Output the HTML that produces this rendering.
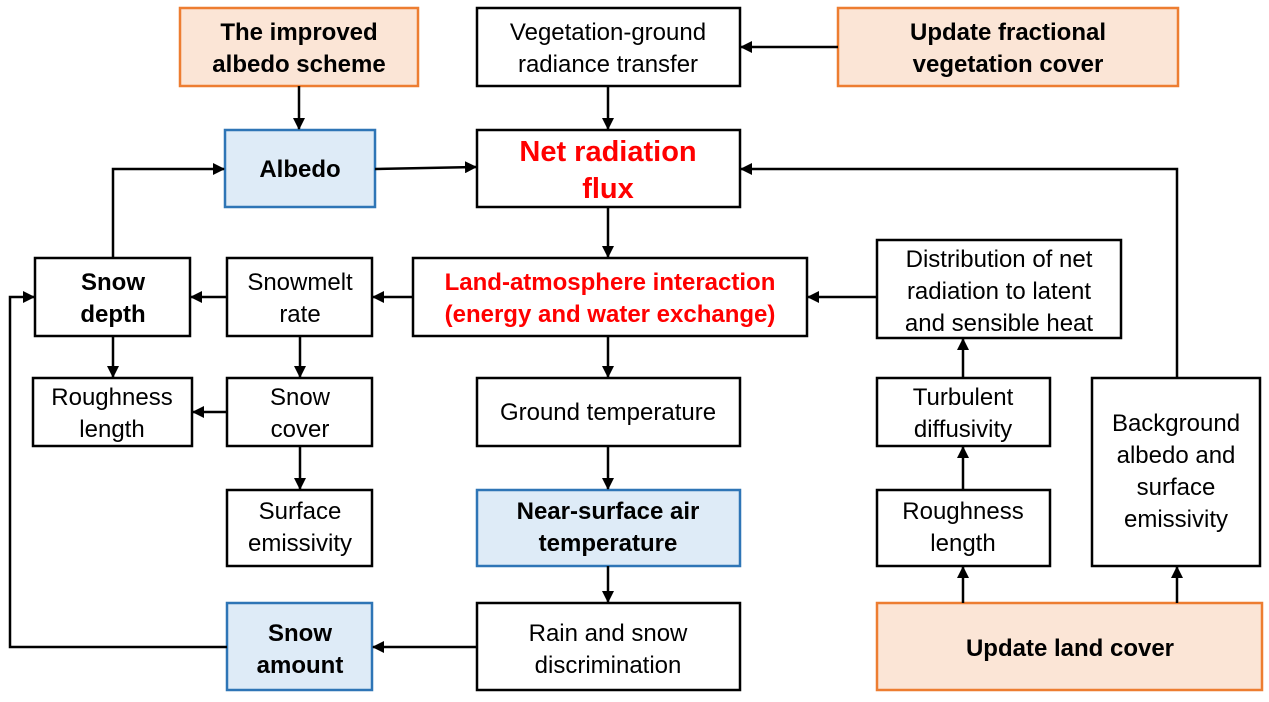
<!DOCTYPE html>
<html><head><meta charset="utf-8"><style>
html,body{margin:0;padding:0;background:#fff;}
svg{display:block;font-family:"Liberation Sans",Arial,sans-serif;}
</style></head><body>
<svg width="1269" height="702" viewBox="0 0 1269 702" xmlns="http://www.w3.org/2000/svg">
<defs><marker id="a" markerWidth="12" markerHeight="12" refX="11" refY="6" orient="auto" markerUnits="userSpaceOnUse"><path d="M0,0 L12,6 L0,12 z" fill="#000"/></marker></defs>
<g stroke-width="2.5">
<rect x="180" y="8" width="238" height="78" fill="#fbe5d6" stroke="#ed7d31"/>
<rect x="477" y="8" width="263" height="78" fill="#fff" stroke="#000"/>
<rect x="838" y="8" width="340" height="78" fill="#fbe5d6" stroke="#ed7d31"/>
<rect x="225" y="130" width="150" height="77" fill="#deebf7" stroke="#2e75b6"/>
<rect x="477" y="130" width="263" height="77" fill="#fff" stroke="#000"/>
<rect x="35" y="258" width="155" height="78" fill="#fff" stroke="#000"/>
<rect x="227" y="258" width="145" height="78" fill="#fff" stroke="#000"/>
<rect x="413" y="258" width="394" height="78" fill="#fff" stroke="#000"/>
<rect x="877" y="240" width="244" height="98" fill="#fff" stroke="#000"/>
<rect x="33" y="378" width="159" height="68" fill="#fff" stroke="#000"/>
<rect x="227" y="378" width="145" height="68" fill="#fff" stroke="#000"/>
<rect x="477" y="378" width="263" height="68" fill="#fff" stroke="#000"/>
<rect x="877" y="378" width="173" height="68" fill="#fff" stroke="#000"/>
<rect x="1092" y="378" width="168" height="188" fill="#fff" stroke="#000"/>
<rect x="227" y="490" width="145" height="76" fill="#fff" stroke="#000"/>
<rect x="477" y="490" width="263" height="76" fill="#deebf7" stroke="#2e75b6"/>
<rect x="877" y="490" width="173" height="76" fill="#fff" stroke="#000"/>
<rect x="227" y="603" width="145" height="87" fill="#deebf7" stroke="#2e75b6"/>
<rect x="477" y="603" width="263" height="87" fill="#fff" stroke="#000"/>
<rect x="877" y="603" width="385" height="87" fill="#fbe5d6" stroke="#ed7d31"/>
</g>
<g stroke="#000" stroke-width="2.5" fill="none" marker-end="url(#a)">
<path d="M299,86 V129"/>
<path d="M608,86 V129"/>
<path d="M838,47 H741"/>
<path d="M375,169 L476,167"/>
<path d="M608,207 V257"/>
<path d="M1177,378 V169 H741"/>
<path d="M113,258 V169 H224"/>
<path d="M227,297 H191"/>
<path d="M413,297 H373"/>
<path d="M877,297 H808"/>
<path d="M608,336 V377"/>
<path d="M113,336 V377"/>
<path d="M300,336 V377"/>
<path d="M227,412 H193"/>
<path d="M300,446 V489"/>
<path d="M608,446 V489"/>
<path d="M608,566 V602"/>
<path d="M477,647 H373"/>
<path d="M227,647 H10 V297 H34"/>
<path d="M963,378 V339"/>
<path d="M963,490 V447"/>
<path d="M963,603 V567"/>
<path d="M1177,603 V567"/>
</g>
<g font-size="24" text-anchor="middle" fill="#000">
<text x="299" y="40" font-weight="bold">The improved</text><text x="299" y="72" font-weight="bold">albedo scheme</text>
<text x="608" y="40">Vegetation-ground</text><text x="608" y="72">radiance transfer</text>
<text x="1008" y="40" font-weight="bold">Update fractional</text><text x="1008" y="72" font-weight="bold">vegetation cover</text>
<text x="300" y="177" font-weight="bold">Albedo</text>
<text x="608" y="161" font-weight="bold" font-size="29" fill="#ff0000">Net radiation</text><text x="608" y="198" font-weight="bold" font-size="29" fill="#ff0000">flux</text>
<text x="113" y="290" font-weight="bold">Snow</text><text x="113" y="322" font-weight="bold">depth</text>
<text x="300" y="290">Snowmelt</text><text x="300" y="322">rate</text>
<text x="610" y="290" font-weight="bold" fill="#ff0000">Land-atmosphere interaction</text><text x="610" y="322" font-weight="bold" fill="#ff0000">(energy and water exchange)</text>
<text x="999" y="267">Distribution of net</text><text x="999" y="299">radiation to latent</text><text x="999" y="331">and sensible heat</text>
<text x="112" y="405">Roughness</text><text x="112" y="437">length</text>
<text x="300" y="405">Snow</text><text x="300" y="437">cover</text>
<text x="608" y="420">Ground temperature</text>
<text x="963" y="405">Turbulent</text><text x="963" y="437">diffusivity</text>
<text x="1176" y="431">Background</text><text x="1176" y="463">albedo and</text><text x="1176" y="495">surface</text><text x="1176" y="527">emissivity</text>
<text x="300" y="519">Surface</text><text x="300" y="551">emissivity</text>
<text x="608" y="519" font-weight="bold">Near-surface air</text><text x="608" y="551" font-weight="bold">temperature</text>
<text x="963" y="519">Roughness</text><text x="963" y="551">length</text>
<text x="300" y="641" font-weight="bold">Snow</text><text x="300" y="673" font-weight="bold">amount</text>
<text x="608" y="641">Rain and snow</text><text x="608" y="673">discrimination</text>
<text x="1070" y="656" font-weight="bold">Update land cover</text>
</g>
</svg>
</body></html>
